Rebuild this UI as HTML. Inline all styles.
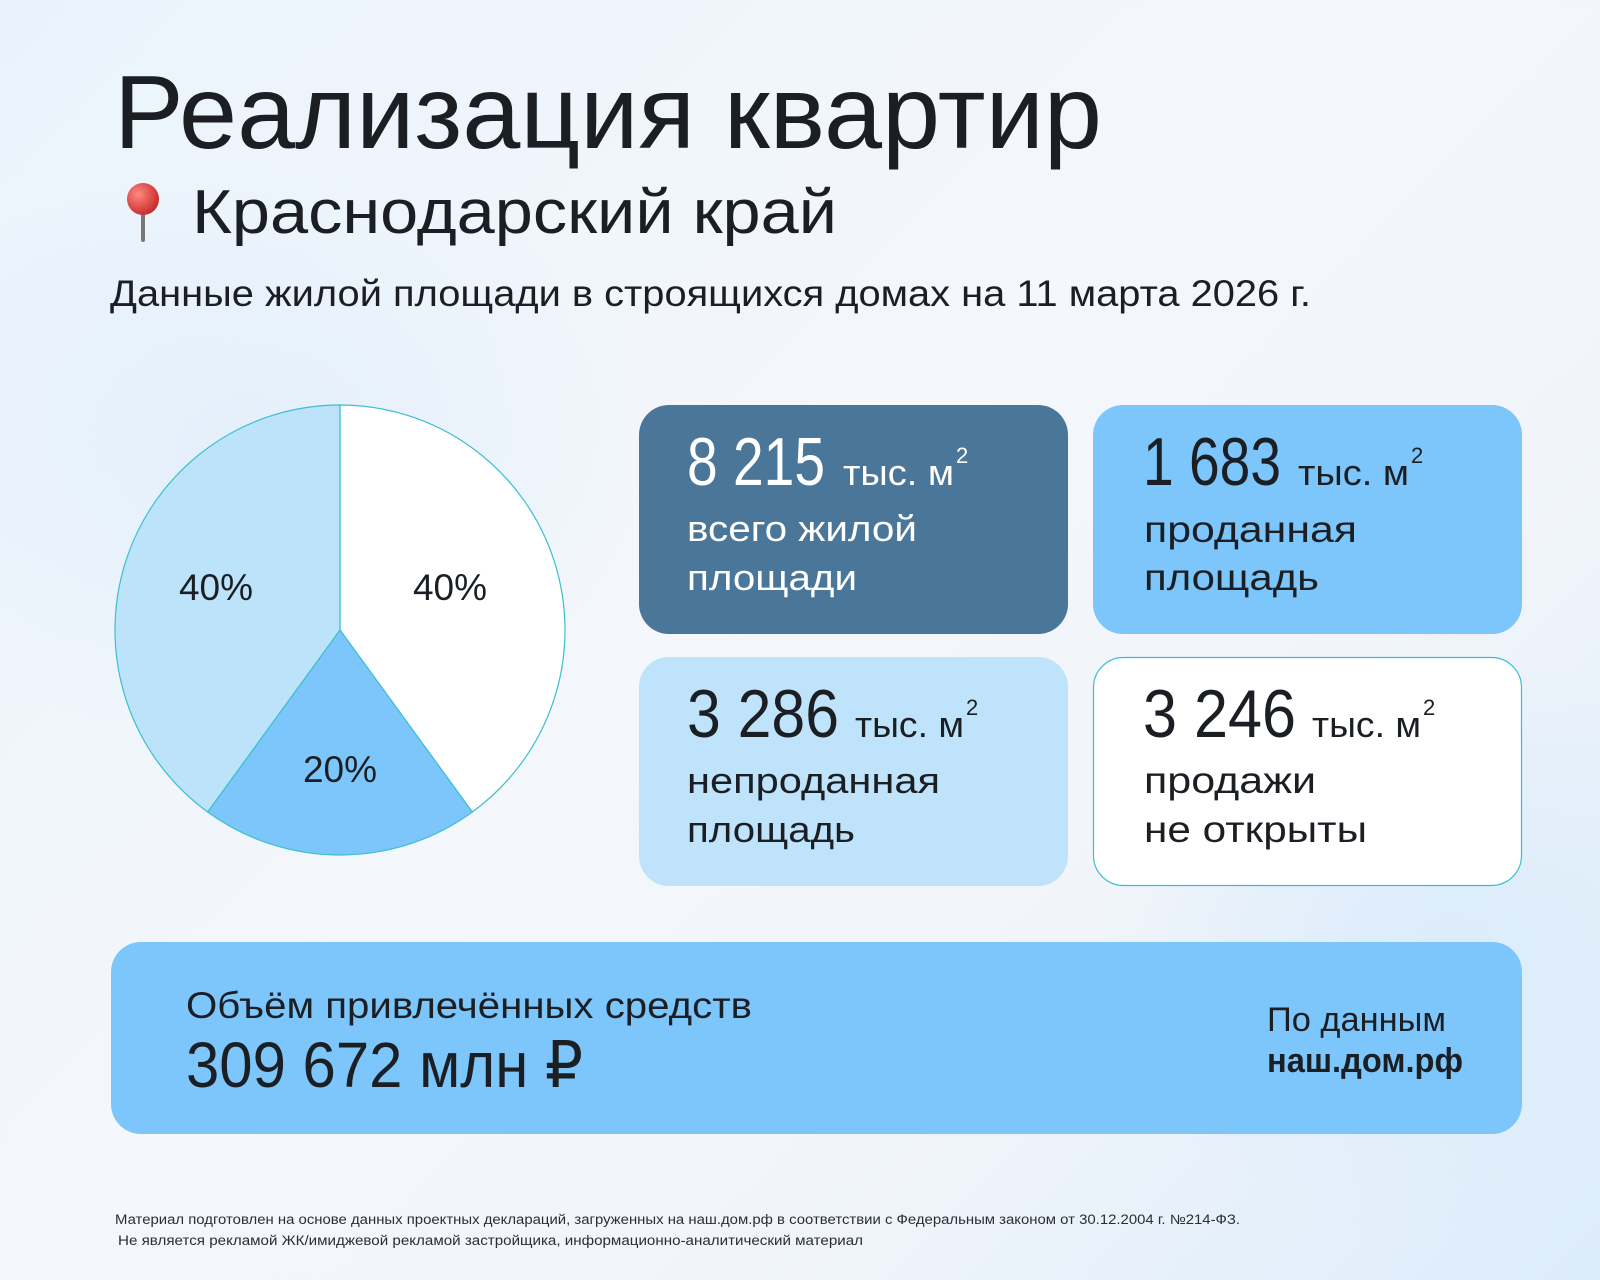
<!DOCTYPE html>
<html><head><meta charset="utf-8"><style>
html,body{margin:0;padding:0;width:1600px;height:1280px;overflow:hidden}
body{background:linear-gradient(135deg,#eaf3fc 0%,#f4f7fb 45%,#f1f5fa 70%,#dcecfb 100%)}
svg text{font-family:"Liberation Sans","DejaVu Sans",sans-serif}
</style></head><body>
<svg width="1600" height="1280" viewBox="0 0 1600 1280" xmlns="http://www.w3.org/2000/svg">
<defs>
<radialGradient id="g1" cx="0.5" cy="0.5" r="0.5"><stop offset="0" stop-color="#dcecfb"/><stop offset="1" stop-color="#dcecfb" stop-opacity="0"/></radialGradient>
<radialGradient id="pin" cx="0.35" cy="0.35" r="0.7"><stop offset="0" stop-color="#ff8a80"/><stop offset="1" stop-color="#c62828"/></radialGradient>
</defs>
<ellipse cx="1450" cy="950" rx="350" ry="300" fill="url(#g1)"/>
<ellipse cx="250" cy="450" rx="400" ry="300" fill="url(#g1)" opacity="0.6"/>

<text x="114" y="148" font-size="104" fill="#1b1f24" textLength="988" lengthAdjust="spacingAndGlyphs">Реализация квартир</text>
<line x1="143" y1="205" x2="143" y2="240" stroke="#777" stroke-width="4" stroke-linecap="round"/>
<circle cx="143" cy="199" r="16" fill="url(#pin)"/>
<text x="192" y="233" font-size="62" fill="#1b1f24" textLength="645" lengthAdjust="spacingAndGlyphs">Краснодарский край</text>
<text x="110" y="306" font-size="37" fill="#1b1f24" textLength="1201" lengthAdjust="spacingAndGlyphs">Данные жилой площади в строящихся домах на 11 марта 2026 г.</text>

<!-- pie -->
<path d="M340,630 L340,405 A225,225 0 0 1 472.3,812 Z" fill="#ffffff" stroke="#3bbfd0" stroke-width="1.2"/>
<path d="M340,630 L472.3,812 A225,225 0 0 1 207.7,812 Z" fill="#7dc6fb" stroke="#3bbfd0" stroke-width="1.2"/>
<path d="M340,630 L207.7,812 A225,225 0 0 1 340,405 Z" fill="#bde3fb" stroke="#3bbfd0" stroke-width="1.2"/>
<text x="216" y="600" font-size="37" fill="#1b1f24" text-anchor="middle">40%</text>
<text x="450" y="600" font-size="37" fill="#1b1f24" text-anchor="middle">40%</text>
<text x="340" y="782" font-size="37" fill="#1b1f24" text-anchor="middle">20%</text>

<!-- cards -->
<rect x="639" y="405" width="429" height="229" rx="30" fill="#4a7699"/>
<rect x="1093" y="405" width="429" height="229" rx="30" fill="#7dc6fb"/>
<rect x="639" y="657" width="429" height="229" rx="30" fill="#bfe3fb"/>
<rect x="1093.5" y="657.5" width="428" height="228" rx="30" fill="#ffffff" stroke="#3bbfd0" stroke-width="1.2"/>

<g fill="#ffffff">
<text x="687" y="485" font-size="68" textLength="138" lengthAdjust="spacingAndGlyphs">8 215</text>
<text x="843" y="485" font-size="36" textLength="111" lengthAdjust="spacingAndGlyphs">тыс. м</text>
<text x="956" y="463" font-size="22">2</text>
<text x="687" y="541" font-size="36" textLength="230" lengthAdjust="spacingAndGlyphs">всего жилой</text>
<text x="687" y="590" font-size="36" textLength="170" lengthAdjust="spacingAndGlyphs">площади</text>
</g>
<g fill="#1b1f24">
<text x="1143" y="485" font-size="68" textLength="138" lengthAdjust="spacingAndGlyphs">1 683</text>
<text x="1298" y="485" font-size="36" textLength="111" lengthAdjust="spacingAndGlyphs">тыс. м</text>
<text x="1411" y="463" font-size="22">2</text>
<text x="1144" y="542" font-size="37" textLength="213" lengthAdjust="spacingAndGlyphs">проданная</text>
<text x="1144" y="590" font-size="37" textLength="175" lengthAdjust="spacingAndGlyphs">площадь</text>

<text x="687" y="737" font-size="68" textLength="152" lengthAdjust="spacingAndGlyphs">3 286</text>
<text x="855" y="737" font-size="36" textLength="109" lengthAdjust="spacingAndGlyphs">тыс. м</text>
<text x="966" y="715" font-size="22">2</text>
<text x="687" y="793" font-size="36" textLength="253" lengthAdjust="spacingAndGlyphs">непроданная</text>
<text x="687" y="842" font-size="36" textLength="168" lengthAdjust="spacingAndGlyphs">площадь</text>

<text x="1143" y="737" font-size="68" textLength="153" lengthAdjust="spacingAndGlyphs">3 246</text>
<text x="1312" y="737" font-size="36" textLength="109" lengthAdjust="spacingAndGlyphs">тыс. м</text>
<text x="1423" y="715" font-size="22">2</text>
<text x="1144" y="793" font-size="37" textLength="172" lengthAdjust="spacingAndGlyphs">продажи</text>
<text x="1144" y="842" font-size="37" textLength="223" lengthAdjust="spacingAndGlyphs">не открыты</text>
</g>

<!-- bottom box -->
<rect x="111" y="942" width="1411" height="192" rx="30" fill="#7dc6fb"/>
<g fill="#1b1f24">
<text x="186" y="1018" font-size="37" textLength="566" lengthAdjust="spacingAndGlyphs">Объём привлечённых средств</text>
<text x="186" y="1087" font-size="64" textLength="397" lengthAdjust="spacingAndGlyphs">309 672 млн ₽</text>
<text x="1267" y="1031" font-size="34" textLength="179" lengthAdjust="spacingAndGlyphs">По данным</text>
<text x="1267" y="1072" font-size="34" font-weight="bold" textLength="196" lengthAdjust="spacingAndGlyphs">наш.дом.рф</text>
</g>

<text x="115" y="1224" font-size="13.5" fill="#2a2e33" textLength="1125" lengthAdjust="spacingAndGlyphs">Материал подготовлен на основе данных проектных деклараций, загруженных на наш.дом.рф в соответствии с Федеральным законом от 30.12.2004 г. №214-ФЗ.</text>
<text x="118" y="1245" font-size="13.5" fill="#2a2e33" textLength="745" lengthAdjust="spacingAndGlyphs">Не является рекламой ЖК/имиджевой рекламой застройщика, информационно-аналитический материал</text>
</svg>
</body></html>
